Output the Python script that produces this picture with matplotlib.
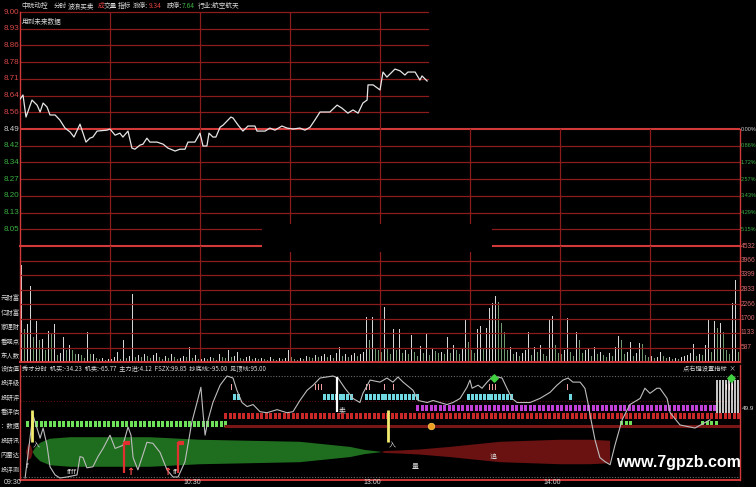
import numpy as np
import matplotlib.pyplot as plt
from matplotlib.patches import Rectangle

plt.rcParams['font.family'] = ['Noto Sans CJK SC', 'DejaVu Sans']

W, H = 756, 487

# ---------------- data ----------------
prev_close = 8.49
price_step = 0.07277
price_labels = ['9.00', '8.93', '8.86', '8.78', '8.71', '8.64', '8.56', '8.49',
                '8.42', '8.34', '8.27', '8.20', '8.13', '8.05']
pct_labels = ['0.00%', '0.86%', '1.72%', '2.57%', '3.43%', '4.29%', '5.15%']
vol_labels = ['587', '1133', '1700', '2266', '2833', '3399', '3966', '4532']
time_labels = ['09:30', '10:30', '13:00', '14:00']
time_pos = [0, 60, 120, 180]

# minutes after 09:30 (trading minutes) / price
price_min = [0, 1, 2, 4, 5.7, 6.7, 7.7, 9, 10, 11.7, 13.3, 15, 16.7, 18, 20, 22, 23.3, 24.3,
             25.7, 29, 30, 31.7, 33.3, 34.3, 36, 37.3, 38.3, 40, 41, 42.3, 43.3, 45.7, 47.7,
             49.3, 51.7, 53.3, 55, 56, 58.3, 60, 61, 62.3, 63, 64.3, 65.3, 66.7, 67.7, 70.3,
             71, 72.7, 74.3, 76, 78.3, 79, 81.7, 83.3, 85, 87.3, 89, 91, 93.3, 95, 96.7, 98.3,
             100, 103.3, 105.7, 107.3, 109.3, 111, 112.7, 114.3, 115.7, 116, 117.7, 120, 121,
             122.3, 125, 126.7, 128.3, 129.3, 131.7, 133.3, 134, 135.7]
price_val = [8.620, 8.638, 8.542, 8.616, 8.594, 8.564, 8.603, 8.586, 8.551, 8.551, 8.529,
             8.494, 8.477, 8.455, 8.511, 8.433, 8.450, 8.455, 8.481, 8.485, 8.490, 8.463,
             8.472, 8.455, 8.481, 8.407, 8.402, 8.420, 8.424, 8.450, 8.433, 8.433, 8.424,
             8.407, 8.394, 8.402, 8.402, 8.433, 8.433, 8.472, 8.416, 8.416, 8.472, 8.455,
             8.455, 8.498, 8.507, 8.542, 8.538, 8.507, 8.481, 8.503, 8.503, 8.481, 8.481,
             8.494, 8.485, 8.503, 8.494, 8.490, 8.494, 8.485, 8.498, 8.529, 8.564, 8.564,
             8.594, 8.581, 8.559, 8.573, 8.559, 8.603, 8.616, 8.682, 8.682, 8.660, 8.738,
             8.716, 8.751, 8.743, 8.725, 8.738, 8.738, 8.703, 8.721, 8.699]

volume = [
    3800, 1280, 1480, 2960, 960, 1600, 840, 880, 480, 1200, 1080, 1480, 280, 360, 960, 480, 680, 480, 320, 320,
    280, 160, 1160, 320, 320, 160, 120, 160, 80, 120, 120, 200, 400, 120, 840, 160, 240, 2640, 200, 280,
    200, 320, 240, 160, 280, 360, 200, 120, 240, 160, 320, 200, 120, 160, 240, 200, 600, 160, 280, 120,
    120, 160, 120, 200, 160, 80, 320, 200, 160, 480, 200, 240, 400, 160, 120, 200, 240, 120, 160, 120,
    160, 120, 80, 200, 120, 80, 160, 120, 160, 480, 200, 120, 80, 160, 120, 240, 200, 160, 280, 200,
    240, 320, 200, 280, 160, 360, 600, 240, 320, 200, 280, 360, 240, 320, 400, 1760, 840, 1760, 560, 480,
    400, 2160, 560, 320, 1280, 480, 1280, 360, 480, 320, 1040, 400, 240, 640, 360, 1120, 280, 560, 440, 360,
    400, 320, 960, 360, 680, 480, 320, 560, 1680, 800, 480, 360, 1280, 1400, 560, 1320, 2120, 2320, 2560, 2360,
    1520, 1160, 480, 600, 320, 400, 240, 360, 480, 1160, 280, 600, 400, 680, 320, 240, 1680, 1800, 680, 360,
    320, 480, 1720, 400, 240, 1160, 840, 360, 480, 560, 240, 600, 320, 400, 280, 200, 360, 240, 600, 1000,
    840, 320, 400, 800, 240, 360, 760, 720, 280, 200, 240, 160, 200, 400, 240, 160, 200, 120, 160, 120,
    200, 240, 280, 360, 720, 240, 320, 280, 680, 1680, 400, 1600, 1320, 1520, 1160, 480, 320, 2320, 3200, 400,
]

# oscillator (0..100)
osc_min = [1.7, 4.3, 6.7, 7.7, 9, 10, 11.7, 13.3, 15.7, 19, 20, 21, 22.3, 24.3, 26, 27.7, 30,
           31.7, 34.3, 36, 37, 37.7, 39.3, 41, 42.3, 44.3, 46.7, 49, 51, 52.7, 55, 57.3, 59,
           60.3, 61, 61.7, 62.7, 64.3, 66.7, 69, 71, 72.3, 74, 75.7, 77.7, 80, 82.3, 85.7, 89,
           91, 93.3, 95.7, 97.7, 100, 104.3, 106, 108.3, 111, 113.3, 114.3, 116.7, 120, 122.3,
           124.3, 126, 127.7, 131, 132.7, 135.7, 137.7, 140, 142.3, 144.3, 146.7, 149, 150,
           150.7, 152.7, 154, 155.7, 157.7, 160.7, 162.3, 164, 165.7, 170, 173.3, 176.7, 179,
           181, 182.7, 184.3, 186.7, 188.3, 189.3, 190, 191.7, 193.3, 195, 196.7, 198.3, 200.7,
           203.3, 206.7, 208.3, 210, 212.3, 213.3, 215.7, 216.7, 220, 225, 230]
osc_val = [0, 62, 39, 49, 32, 11, 3, 0, 1, 3, 21, 20, 10, 11, 21, 29, 42, 29, 32, 50, 42, 20,
           8, 23, 35, 34, 25, 8, 1, 1, 16, 55, 74, 89, 64, 42, 57, 74, 91, 100, 98, 86, 74, 70,
           72, 65, 64, 67, 64, 65, 76, 86, 91, 98, 100, 98, 88, 78, 74, 83, 96, 94, 98, 94, 99,
           94, 86, 76, 74, 76, 74, 72, 74, 78, 89, 96, 88, 91, 88, 94, 100, 98, 88, 78, 74, 74,
           78, 84, 91, 96, 98, 94, 94, 88, 74, 62, 37, 20, 16, 13, 32, 57, 72, 78, 88, 83, 88,
           88, 78, 64, 52, 49, 57]

# ribbon half-width: positive = green, negative = red
ribbon_min = [2, 2.7, 3.7, 4.3, 5, 6.7, 10, 16.7, 26.7, 43.3, 60, 76.7, 93.3, 103.3, 110, 115,
              120, 121.7, 126.7, 133.3, 143.3, 153.3, 160, 170, 180, 190, 196.7]
ribbon_val = [0, -8, -6, 0.5, 4, 9, 13, 14.5, 14.5, 14.5, 12, 11, 10, 7, 5, 2, 0.3, -1, -1.5,
              -2.5, -5, -8, -10, -11, -12, -12, -11]

# signal dashes (minute ranges)
green_sig = [(2, 68), (200, 203), (227, 232)]
red_sig = [(68, 239)]
magenta_sig = [(132, 231)]
cyan_sig = [(71, 73), (101, 111), (115, 133), (149, 164), (183, 183)]
pink_marks = [70, 98, 99, 100, 115, 116, 121, 124, 156, 157, 158, 182, 235, 236, 237]
white_bars = [232, 233, 234, 235, 236, 237, 238, 239]
buy_lines = [34.7, 52.7]
buy_arrows = [36.7, 49]
yellow_lines = [4, 122.7]
sell_line = 105.7
dot_signal = 137
diamonds = [158, 237]

# ---------------- colours ----------------
grid = '#8c1c1c'
grid_hi = '#d23a3a'
up_col = '#d84848'
down_col = '#3cb043'
txt = '#d8d8d8'

fig = plt.figure(figsize=(W / 100, H / 100), dpi=100, facecolor='black')


def box(x0, y0, x1, y1):
    ax = fig.add_axes([x0 / W, 1 - y1 / H, (x1 - x0) / W, (y1 - y0) / H])
    ax.set_axis_off()
    return ax


def ftext(x, y, s, **kw):
    kw.setdefault('color', txt)
    kw.setdefault('fontsize', 4.8)
    kw.setdefault('va', 'center')
    fig.text(x / W, 1 - y / H, s, **kw)


# ---------------- price panel ----------------
ax = box(20, 12, 740, 246)
ax.set_xlim(0, 240)
ax.set_ylim(prev_close - 7 * price_step, prev_close + 7 * price_step)
levels = prev_close + price_step * np.arange(7, -7, -1)
for lv, lab in zip(levels, price_labels):
    if lv > prev_close + 1e-6:
        ax.plot([0, 136], [lv, lv], color=grid, lw=0.9, clip_on=False)
        c = up_col
    elif abs(lv - prev_close) < 1e-6:
        ax.axhline(lv, color=grid_hi, lw=1.5)
        c = '#cccccc'
    else:
        ax.axhline(lv, color=grid, lw=0.9)
        c = down_col
    ax.text(-0.0015, lv, lab, transform=ax.get_yaxis_transform(), ha='right', va='center',
            fontsize=5.8, color=c, family='Liberation Sans')
for lv, lab in zip(levels[7:], pct_labels):
    c = '#cccccc' if lab == '0.00%' else down_col
    ax.text(1.0008, lv, lab, transform=ax.get_yaxis_transform(), ha='left', va='center',
            fontsize=4.0, color=c, family='Liberation Sans')
for t in [30, 60, 90, 120]:
    ax.axvline(t, color=grid, lw=0.9)
for t in [150, 180, 210]:
    ax.axvline(t, ymax=0.5, color=grid, lw=0.9)
ax.axvline(0, color=grid_hi, lw=1, clip_on=False)
ax.axvline(240, ymax=0.5, color=grid_hi, lw=1, clip_on=False)
ax.plot(price_min, price_val, color='#e6e6e6', lw=0.9)
ax.text(0.003, 0.975, '用到未来数据', transform=ax.transAxes, fontsize=4.8, color=txt,
        va='top', ha='left')

# ---------------- volume panel ----------------
av = box(20, 246, 740, 362)
av.set_xlim(0, 240)
av.set_ylim(0, 4532)
vol_levels = 566.5 * np.arange(1, 9)
for lv, lab in zip(vol_levels, vol_labels):
    hi = lab == '4532'
    av.axhline(lv, color=grid_hi if hi else grid, lw=1.5 if hi else 0.9, clip_on=False)
    av.text(1.0008, lv, lab, transform=av.get_yaxis_transform(), ha='left', va='center',
            fontsize=4.8, color='#d86a6a', family='Liberation Sans')
for t in range(30, 240, 30):
    av.axvline(t, color=grid, lw=0.9)
av.axvline(0, color=grid_hi, lw=1, clip_on=False)
av.axvline(240, color=grid_hi, lw=1, clip_on=False)
av.axhline(0, color=grid_hi, lw=1.4, clip_on=False)
vols = np.array(volume)
bar_cols = ['#d6d6d6' if i == 0 or vols[i] >= vols[i - 1] else '#6f9a6f' for i in range(len(vols))]
av.bar(np.arange(len(vols)) + 0.5, vols, width=0.38, color=bar_cols, linewidth=0)

# ---------------- indicator panel ----------------
ai = box(20, 365, 740, 480)
ai.set_xlim(0, 240)
ai.set_ylim(-2 / 1.02, 113 / 1.02)
ai.axhline(100, color='#6a6a6a', lw=0.8, ls=(0, (1, 1.5)))
ai.axhline(75.5, color='#5a1010', lw=0.8, ls=(0, (1, 1.5)))
ai.axhline(1, color='#6a6a6a', lw=0.8, ls=(0, (1, 1.5)))
ai.axhline(-1.96, color=grid_hi, lw=1.4, clip_on=False)
ai.axvline(0, color=grid_hi, lw=1, clip_on=False)
ai.axvline(240, color=grid_hi, lw=1, clip_on=False)

# ribbon
rc = 25.5
rm = np.array(ribbon_min)
rv = np.array(ribbon_val)
ai.fill_between(rm, rc - rv, rc + rv, where=rv >= 0, interpolate=True, color='#1f6e1f', lw=0)
ai.fill_between(rm, rc + rv, rc - rv, where=rv <= 0, interpolate=True, color='#6a1212', lw=0)

# dark red thin band
ai.plot([68, 240], [51, 51], color='#7a1616', lw=2.2, solid_capstyle='butt')


def dashes(ranges, lo, hi, color, step=1.5, width=1.0):
    for a, b in ranges:
        xs = np.arange(a, b + 0.01, step)
        ai.bar(xs + 0.5, hi - lo, bottom=lo, width=width, color=color, lw=0)


dashes(green_sig, 50, 56, '#6ee05a')
dashes(red_sig, 58, 63.7, '#c82828')
dashes(magenta_sig, 65.7, 71.6, '#c040d8')
dashes(cyan_sig, 76.5, 82.4, '#70d8e0', step=1.3)
ai.bar(np.array(pink_marks) + 0.5, 5.9, bottom=86.3, width=0.6, color='#f0a0a0', lw=0)
ai.vlines(np.array(white_bars) + 0.3, 63.7, 96, color='white', lw=1.1)

ai.plot(osc_min, osc_val, color='#bdbdbd', lw=0.8)

for m in yellow_lines:
    ai.vlines(m, 35.3, 66.7, color='#f4ec70', lw=2)
    ai.text(m + 1.5, 32, '入', fontsize=5, color=txt, ha='center', va='center')
ai.vlines(sell_line, 64.7, 99, color='white', lw=1.6)
ai.text(sell_line + 1.8, 66.7, '卖', fontsize=5, color=txt, ha='center', va='center')
for m in buy_lines:
    ai.vlines(m, 4.9, 35.3, color='#e03030', lw=1.6)
    ai.plot([m, m + 2], [34, 34], color='#e03030', lw=3, solid_capstyle='butt')
for m in buy_arrows:
    ai.text(m, 5.5, '↑', fontsize=7, color='#ff5050', ha='center', va='center',
            family='DejaVu Sans', fontweight='bold')
ai.scatter([dot_signal], [51], s=22, color='#f0a020', edgecolor='#ffd060', lw=0.5, zorder=5)
ai.scatter(diamonds, [98, 98], s=14, marker='D', color='#40d040', zorder=5)
ai.text(2.3, 12, 'f', fontsize=5, color=txt, ha='center', va='center', family='DejaVu Sans')
ai.text(17.3, 5.9, 'ffff', fontsize=5, color=txt, ha='center', va='center', family='DejaVu Sans')
ai.text(51.7, 5.9, 'ff', fontsize=5, color=txt, ha='center', va='center', family='DejaVu Sans')
ai.text(131.7, 10.8, '量', fontsize=5, color=txt, ha='center', va='center')
ai.text(157.7, 20.6, '追', fontsize=5, color=txt, ha='center', va='center')

# black masked area
fig.patches.append(Rectangle((262 / W, 1 - 252 / H), 230 / W, 28 / H, transform=fig.transFigure,
                             facecolor='black', edgecolor='none', zorder=10))

# ---------------- texts ----------------
ftext(21, 6, '中院动控')
ftext(54, 6, '分时')
ftext(68, 6, '波浪买卖')
ftext(98, 6, '成', color='#e04040')
ftext(104, 6, '交量')
ftext(118, 6, '指标')
ftext(133, 6, '涨停:')
ftext(149, 6, '9.34', color='#e04040')
ftext(167, 6, '跌停:')
ftext(182, 6, '7.64', color=down_col)
ftext(198, 6, '行业:航空航天')

ftext(22, 369, '秀才分时  机买:-34.23  机卖:-65.77  主力进:4.12  FSZX:99.85  抄底线:-95.00  见顶线:95.00',
      fontsize=4.5)
ftext(683, 369, '点右键设置指标  ×', fontsize=4.5)
ftext(742, 408, '49.9', fontsize=4.6, family='Liberation Sans')

side_labels = [(298, '元财富'), (313, '亿财富'), (327, '家理财'), (342, '看观点'),
               (356, '东人数'), (369, '设估值'), (383, '投评级'), (398, '投研评'),
               (412, '看评估'), (426, '：数据'), (441, '投研讯'), (455, '内雷达'),
               (470, '投评测')]
for y, s in side_labels:
    ftext(0.5, y, s, fontsize=4.6, ha='left')

for t, lab in zip(time_pos, time_labels):
    ftext(20 + 3 * t + 1, 482, lab, fontsize=5, ha='right', family='Liberation Sans')

ftext(678, 463, 'www.7gpzb.com', fontsize=11.5, fontweight='bold', color='white',
      ha='center', family='Liberation Sans')

fig.savefig('out.png', dpi=100, facecolor='black')
